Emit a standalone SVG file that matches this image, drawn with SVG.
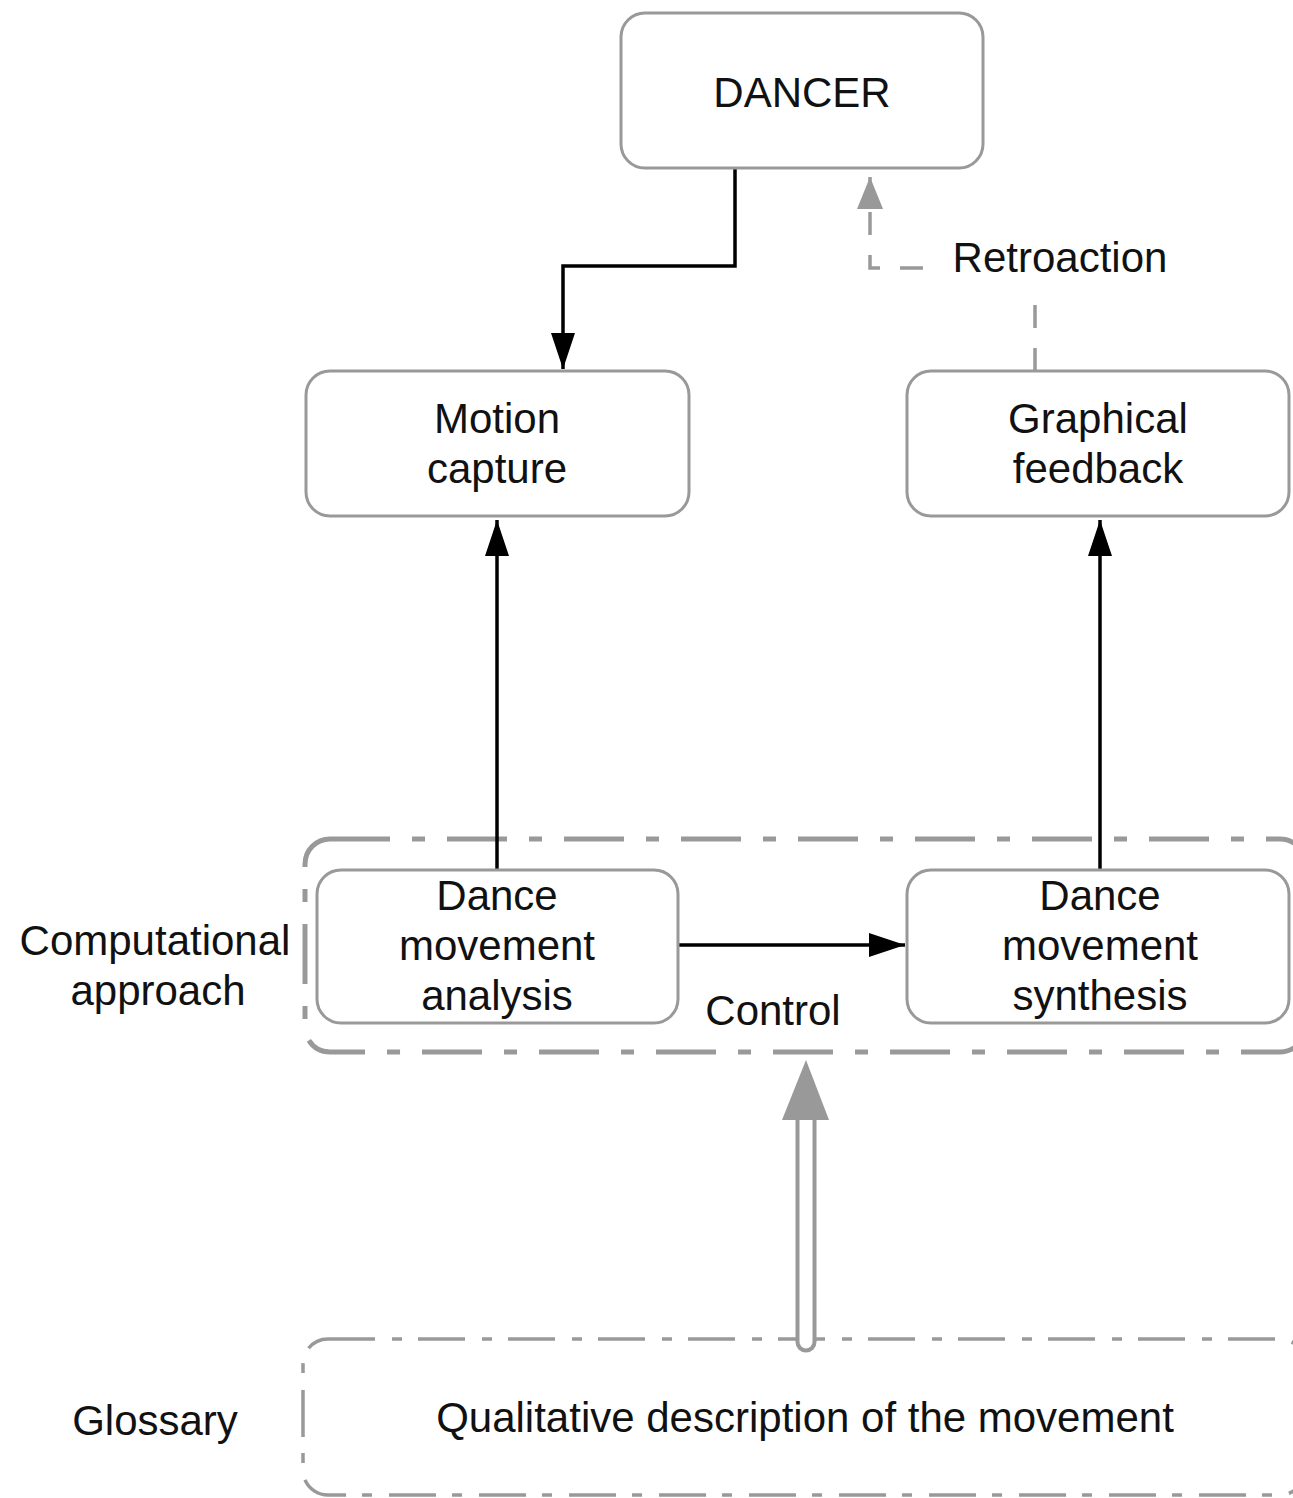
<svg xmlns="http://www.w3.org/2000/svg" width="1293" height="1498" viewBox="0 0 1293 1498">
<style>
.node{fill:#fff;stroke:#999;stroke-width:3}
.t{font-family:"Liberation Sans",Arial,sans-serif;font-size:42px;fill:#111;text-anchor:middle}
.c{fill:none;stroke:#000;stroke-width:3.5}
.cont{fill:none;stroke:#999}
</style>
<defs>
<marker id="ab" markerUnits="userSpaceOnUse" markerWidth="40" markerHeight="30" refX="36" refY="12" orient="auto" viewBox="0 0 40 24"><path d="M0,0 L36,12 L0,24 z" fill="#000"/></marker>
<marker id="ag" markerUnits="userSpaceOnUse" markerWidth="40" markerHeight="30" refX="32" refY="13" orient="auto" viewBox="0 0 40 26"><path d="M0,0 L32,13 L0,26 z" fill="#999"/></marker>
</defs>
<rect width="1293" height="1498" fill="#fff"/>
<g id="containers">
<g id="computational"><rect class="cont" x="305" y="839" width="1000" height="213" rx="25" stroke-width="5" stroke-dasharray="60 22 13 22"/></g>
<g id="glossary"><rect class="cont" x="303" y="1339" width="1002" height="156" rx="25" stroke-width="3.5" stroke-dasharray="47 17 10 16"/></g>
</g>
<g id="connectors">
<path class="c" d="M735,168 V266 H563 V369" marker-end="url(#ab)"/>
<path class="c" d="M497,870 V520" marker-end="url(#ab)"/>
<path class="c" d="M1100,870 V520" marker-end="url(#ab)"/>
<path class="c" d="M678,945 H905" marker-end="url(#ab)"/>
<path d="M1035,371 V268 H870 V177" fill="none" stroke="#999" stroke-width="3.5" stroke-dasharray="23 20" marker-end="url(#ag)"/>
<g id="control-arrow">
<path d="M806,1342 V1118" fill="none" stroke="#999" stroke-width="21" stroke-linecap="round"/>
<path d="M806,1342 V1116" fill="none" stroke="#fff" stroke-width="13" stroke-linecap="round"/>
<path d="M782,1120 L806,1060 L829,1120 z" fill="#999"/>
</g>
<rect x="940" y="232" width="240" height="56" fill="#fff"/>
<text class="t" x="1060" y="272">Retroaction</text>
<text class="t" x="773" y="1025">Control</text>
</g>
<g id="dancer"><rect class="node" x="621" y="13" width="362" height="155" rx="24"/><text class="t" x="802" y="107">DANCER</text></g>
<g id="motion-capture"><rect class="node" x="306" y="371" width="383" height="145" rx="24"/><text class="t" x="497" y="433">Motion</text><text class="t" x="497" y="483">capture</text></g>
<g id="graphical-feedback"><rect class="node" x="907" y="371" width="382" height="145" rx="24"/><text class="t" x="1098" y="433">Graphical</text><text class="t" x="1098" y="483">feedback</text></g>
<g id="analysis"><rect class="node" x="317" y="870" width="361" height="153" rx="24"/><text class="t" x="497" y="910">Dance</text><text class="t" x="497" y="960">movement</text><text class="t" x="497" y="1010">analysis</text></g>
<g id="synthesis"><rect class="node" x="907" y="870" width="382" height="153" rx="24"/><text class="t" x="1100" y="910">Dance</text><text class="t" x="1100" y="960">movement</text><text class="t" x="1100" y="1010">synthesis</text></g>
<g id="labels">
<text class="t" x="155" y="955">Computational</text>
<text class="t" x="158" y="1005">approach</text>
<text class="t" x="155" y="1435">Glossary</text>
<text class="t" x="805" y="1432">Qualitative description of the movement</text>
</g>
</svg>
